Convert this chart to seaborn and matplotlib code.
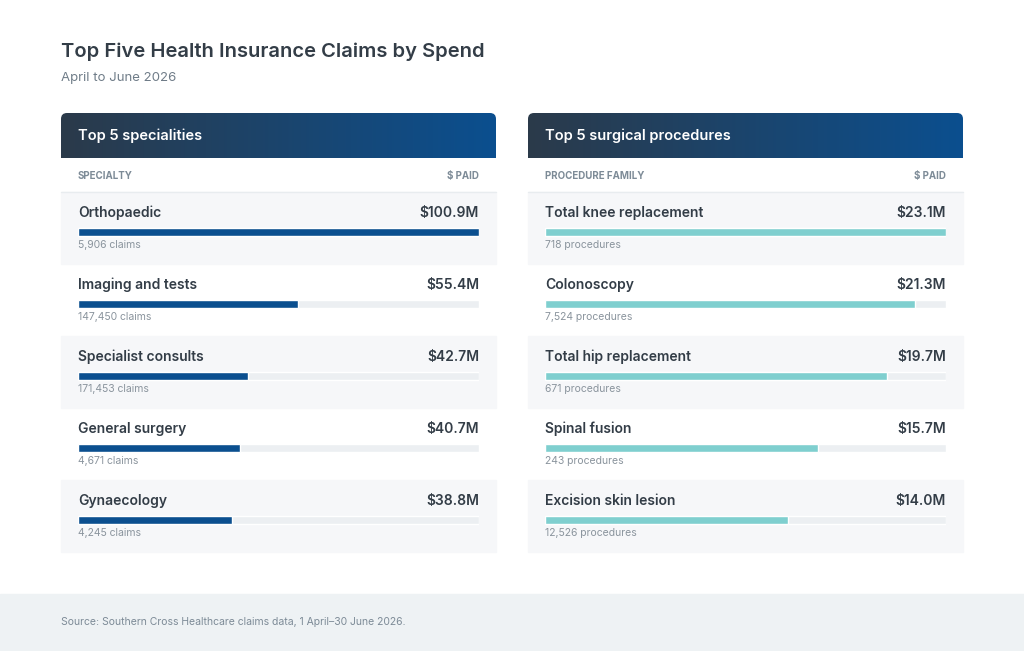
import numpy as np
import pandas as pd
import matplotlib
matplotlib.use("Agg")
import matplotlib.pyplot as plt
from matplotlib.patches import FancyBboxPatch, Rectangle
import seaborn as sns

sns.set_theme(style="white")
plt.rcParams['font.family'] = ['Inter', 'DejaVu Sans']

# data
specialties = ["Orthopaedic", "Imaging and tests", "Specialist consults", "General surgery", "Gynaecology"]
spec_paid = [100.9, 55.4, 42.7, 40.7, 38.8]
spec_claims = ["5,906 claims", "147,450 claims", "171,453 claims", "4,671 claims", "4,245 claims"]

procedures = ["Total knee replacement", "Colonoscopy", "Total hip replacement", "Spinal fusion", "Excision skin lesion"]
proc_paid = [23.1, 21.3, 19.7, 15.7, 14.0]
proc_counts = ["718 procedures", "7,524 procedures", "671 procedures", "243 procedures", "12,526 procedures"]

W, H = 1024, 651
fig = plt.figure(figsize=(W / 100, H / 100), dpi=100)
fig.patch.set_facecolor("white")

bg = fig.add_axes([0, 0, 1, 1])
bg.set_xlim(0, W)
bg.set_ylim(H, 0)
bg.axis("off")

dark = "#333d47"
gray = "#7d8b97"

bg.text(61, 52, "Top Five Health Insurance Claims by Spend", fontsize=14.5, fontweight="semibold",
        color=dark, va="center")
bg.text(61, 78, "April to June 2026", fontsize=9.5, color="#6f7c88", va="center")

# footer
bg.add_patch(Rectangle((0, 594), W, H - 594, color="#eef2f4", zorder=0))
bg.text(61, 622, "Source: Southern Cross Healthcare claims data, 1 April\u201330 June 2026.",
        fontsize=7.5, color="#7d8b97", va="center")

grad = np.linspace(0, 1, 256).reshape(1, -1)
cmap = matplotlib.colors.LinearSegmentedColormap.from_list("hdr", ["#2b3a4a", "#0b4f8f"])

row_top, row_h = 192, 72


def panel(x0, title, col1, names, values, subs, color):
    x1 = x0 + 435
    # header with gradient
    clip = FancyBboxPatch((x0, 113), 435, 60, boxstyle="round,pad=0,rounding_size=6",
                          transform=bg.transData, facecolor="none", edgecolor="none")
    bg.add_patch(clip)
    im = bg.imshow(grad, cmap=cmap, aspect="auto", extent=(x0, x1, 158, 113), zorder=1)
    im.set_clip_path(clip)
    bg.text(x0 + 17, 136, title, fontsize=10.5, fontweight="semibold", color="white", va="center", zorder=2)
    bg.text(x0 + 17, 176, col1, fontsize=7, fontweight="bold", color=gray, va="center")
    bg.text(x1 - 17, 176, "$ PAID", fontsize=7, fontweight="bold", color=gray, va="center", ha="right")
    bg.plot([x0, x1], [191.5, 191.5], color="#e8ecef", lw=1)
    for i, (n, v, s) in enumerate(zip(names, values, subs)):
        y = row_top + i * row_h
        if i % 2 == 0:
            bg.add_patch(Rectangle((x0, y), 435, row_h, color="#f6f7f9", zorder=0))
        bg.text(x0 + 17, y + 21, n, fontsize=10, fontweight="semibold", color=dark, va="center")
        bg.text(x1 - 17, y + 21, f"${v:.1f}M", fontsize=10, fontweight="semibold", color=dark,
                va="center", ha="right")
        bg.text(x0 + 17, y + 53, s, fontsize=7.5, color="#8a949d", va="center")

    # bar axes
    bx0, bx1 = x0 + 17, x1 - 17
    ax = fig.add_axes([bx0 / W, 1 - (row_top + 5 * row_h) / H, (bx1 - bx0) / W, 5 * row_h / H])
    ax.patch.set_alpha(0)
    df = pd.DataFrame({"name": names, "value": values, "track": [max(values)] * len(values)})
    sns.barplot(data=df, x="track", y="name", color="#eceff2", width=0.1, ax=ax, saturation=1)
    sns.barplot(data=df, x="value", y="name", color=color, width=0.1, ax=ax, saturation=1)
    lo = -40 / 72
    ax.set_ylim(lo + 5, lo)
    ax.set_xlim(0, max(values))
    ax.axis("off")


panel(61, "Top 5 specialities", "SPECIALTY", specialties, spec_paid, spec_claims, "#0b4f8f")
panel(528, "Top 5 surgical procedures", "PROCEDURE FAMILY", procedures, proc_paid, proc_counts, "#7fcfcf")

fig.savefig("out.png", dpi=100)
